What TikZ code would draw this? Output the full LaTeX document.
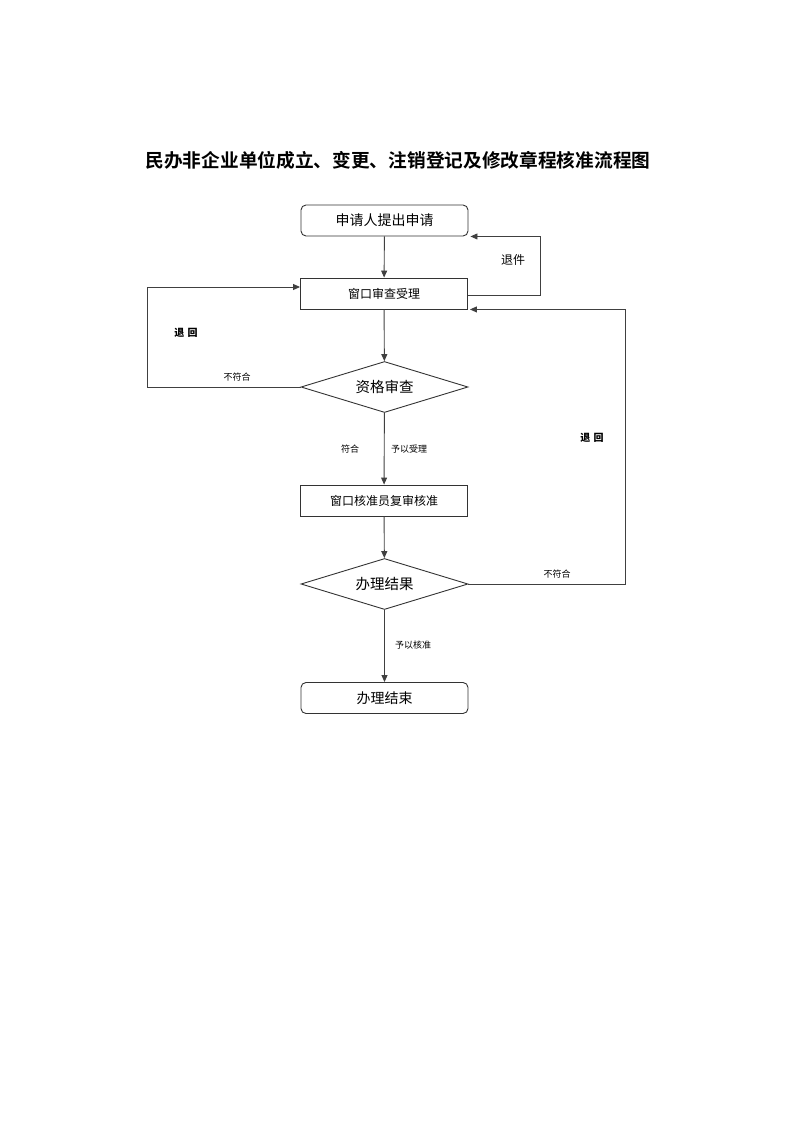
\documentclass[tikz,border=0pt]{standalone}
\usepackage{fontspec}
\setmainfont{Noto Sans CJK SC}
\newfontfamily\titlefont{Noto Sans CJK SC}[BoldFont={* Bold}]
\usetikzlibrary{arrows.meta,shapes.geometric}

\tikzset{
	stepbox/.style={draw=black!80, line width=0.9pt, minimum width=167pt, minimum height=31pt, inner sep=0pt, font=\fontsize{12}{14}\selectfont},
	endbox/.style={stepbox, rounded corners=5pt, font=\fontsize{14}{16}\selectfont},
	checkbox/.style={draw=black!80, line width=0.9pt, diamond, aspect=3.27, minimum width=167pt, minimum height=51pt, inner sep=0pt, font=\fontsize{14.5}{16}\selectfont},
	flow/.style={draw=black!75, line width=0.9pt, -{Triangle[length=7pt,width=6pt]}},
	tag/.style={font=\fontsize{9}{11}\selectfont, inner sep=1pt},
	bigtag/.style={font=\fontsize{12}{14}\selectfont, inner sep=1pt}
}

\begin{document}
\begin{tikzpicture}[x=1pt, y=-1pt]
		%%%%% START %%%%%
		\useasboundingbox (0, 0) rectangle (793, 1122);
		
		\node[font=\titlefont\bfseries\fontsize{18.7}{22}\selectfont] (title) at (398, 160) {民办非企业单位成立、变更、注销登记及修改章程核准流程图};
		
		\node[endbox] (apply) at (384.5, 220.5) {申请人提出申请};
		\node[stepbox] (accept) at (384, 293.5) {窗口审查受理};
		\node[checkbox] (qualify) at (384.5, 387) {资格审查};
		\node[stepbox] (review) at (384, 500.5) {窗口核准员复审核准};
		\node[checkbox] (result) at (384.5, 584) {办理结果};
		\node[endbox] (finish) at (384.5, 698) {办理结束};
		
		\draw[flow] (apply) -- (accept);
		\draw[flow] (accept) -- (qualify);
		\draw[flow] (qualify) -- (review);
		\draw[flow] (review) -- (result);
		\draw[flow] (result) -- (finish);
		
		% return loops
		\draw[flow] ([yshift=-1.5pt]accept.east) -- ++(72, 0) |- ([xshift=2pt]apply.south east);
		\draw[flow] (qualify.west) -- ++(-153, 0) |- ([yshift=6.5pt]accept.west);
		\draw[flow] (result.east) -- ++(157, 0) |- ([xshift=2pt]accept.south east);
		
		\node[bigtag] (backfile) at (513, 260) {退件};
		\node[tag, font=\bfseries\fontsize{10}{12}\selectfont] (back1) at (186, 333) {退\,\,回};
		\node[tag] (nofit1) at (237, 377) {不符合};
		\node[tag] (fit) at (350, 449) {符合};
		\node[tag] (take) at (409, 449) {予以受理};
		\node[tag, font=\bfseries\fontsize{10}{12}\selectfont] (back2) at (592, 438) {退\,\,回};
		\node[tag] (nofit2) at (557, 574) {不符合};
		\node[tag] (grant) at (413, 645) {予以核准};
		
		%%%%% END %%%%%
	\end{tikzpicture}
\end{document}
